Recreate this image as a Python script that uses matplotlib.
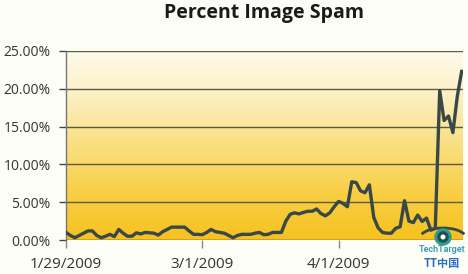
import numpy as np
import matplotlib.pyplot as plt
import matplotlib.dates as mdates
import matplotlib.patches as mpatches
import matplotlib.transforms as mtransforms
from matplotlib.colors import LinearSegmentedColormap
import datetime as dt

# daily share of image spam, in percent, starting 1/29/2009
start_date = dt.date(2009, 1, 29)
spam_pct = [
    1.0, 0.6, 0.3, 0.6, 0.9, 1.2, 1.2, 0.6, 0.3, 0.5,
    0.75, 0.45, 1.4, 0.9, 0.5, 0.5, 0.95, 0.8, 1.0, 0.95,
    0.9, 0.65, 1.1, 1.4, 1.7, 1.7, 1.7, 1.7, 1.2, 0.75,
    0.75, 0.7, 1.0, 1.4, 1.1, 1.0, 0.9, 0.6, 0.3, 0.6,
    0.75, 0.75, 0.75, 0.9, 1.0, 0.7, 0.75, 1.0, 1.0, 1.0,
    2.5, 3.4, 3.6, 3.45, 3.65, 3.8, 3.8, 4.1, 3.5, 3.2,
    3.6, 4.4, 5.1, 4.85, 4.4, 7.7, 7.6, 6.5, 6.25, 7.3,
    3.0, 1.6, 1.0, 0.9, 0.9, 1.55, 1.75, 5.2, 2.5, 2.3,
    3.3, 2.45, 2.9, 1.3, 1.55, 19.75, 15.8, 16.4, 14.2, 19.0,
    22.3,
]
dates = [start_date + dt.timedelta(days=i) for i in range(len(spam_pct))]
tick_dates = [dt.date(2009, 1, 29), dt.date(2009, 3, 1), dt.date(2009, 4, 1)]
tick_labels = ["1/29/2009", "3/1/2009", "4/1/2009"]
y_ticks = [0, 5, 10, 15, 20, 25]

fig = plt.figure(figsize=(4.68, 2.74), dpi=100)
fig.patch.set_facecolor("#fdfdf7")
ax = fig.add_axes([66 / 468, 1 - 240 / 274, 397 / 468, 189 / 274])

x0 = mdates.date2num(dates[0])
x1 = mdates.date2num(dates[-1]) + 0.3
ax.set_xlim(x0, x1)
ax.set_ylim(0, 25)

# yellow gradient background
cmap = LinearSegmentedColormap.from_list(
    "bg", ["#f6c21f", "#f8cf45", "#fadf80", "#fcefc0", "#fefbec"])
grad = np.linspace(0, 1, 256).reshape(-1, 1)
ax.imshow(grad, cmap=cmap, origin="lower", aspect="auto",
          extent=[x0, x1, 0, 25], zorder=0)

for y in y_ticks:
    ax.axhline(y, color="#5e5a45" if y else "#222222", lw=1.0, zorder=1)

ax.plot(dates, spam_pct, color="#384848", lw=2.4, zorder=3,
        solid_joinstyle="round")

for s in ["top", "right", "bottom"]:
    ax.spines[s].set_visible(False)
ax.spines["left"].set_color("#777777")
ax.spines["left"].set_linewidth(1.0)

ax.set_yticks(y_ticks)
ax.set_yticklabels(["%.2f%%" % v for v in y_ticks])
ax.set_xticks([mdates.date2num(d) for d in tick_dates])
ax.set_xticklabels(tick_labels)
ax.tick_params(axis="y", length=5, width=1, color="#444444", pad=6,
               labelsize=10, labelcolor="#333333")
ax.tick_params(axis="x", length=6, width=1, color="#888888", pad=6,
               labelsize=11, labelcolor="#333333")
for lab in ax.get_xticklabels() + ax.get_yticklabels():
    lab.set_family("Open Sans")

fig.text(264 / 468, 1 - 13 / 274, "Percent Image Spam", ha="center",
         va="center", fontsize=14, fontweight="bold", family="Open Sans",
         color="#1a1a1a")

# TechTarget watermark
ident = mtransforms.IdentityTransform()
fig.add_artist(mpatches.Arc((443, 274 - 238), 46, 20, theta1=10, theta2=170,
                            color="#384848", lw=2.0, transform=ident,
                            zorder=4))
fig.add_artist(mpatches.Circle((443, 274 - 237), 8, color="#2e9b8f",
                               transform=ident, zorder=5))
fig.add_artist(mpatches.Circle((443, 274 - 237), 5, color="#1f4f55",
                               transform=ident, zorder=6))
fig.add_artist(mpatches.Circle((443, 274 - 237), 1.8, color="white",
                               transform=ident, zorder=7))
fig.text(442 / 468, 1 - 249 / 274, "TechTarget", ha="center", va="center",
         fontsize=6.5, fontweight="bold", color="#3f9fb5", family="Roboto")
fig.text(442 / 468, 1 - 264 / 274, "TT中国", ha="center", va="center",
         fontsize=8, fontweight="bold", color="#2a6fc4",
         family=["Noto Sans CJK SC", "DejaVu Sans"])

fig.savefig("out.png", dpi=100, facecolor=fig.get_facecolor())
